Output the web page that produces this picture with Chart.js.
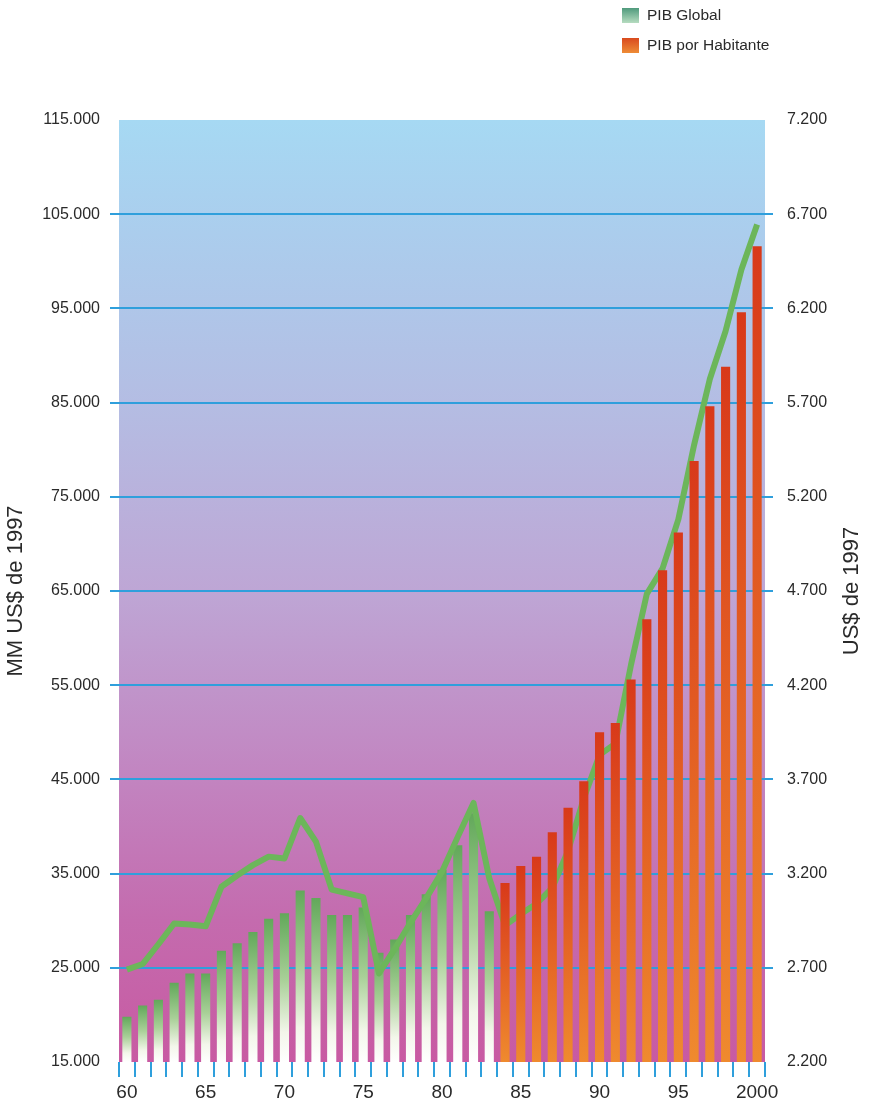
<!DOCTYPE html>
<html lang="es">
<head>
<meta charset="utf-8">
<title>PIB Global y PIB por Habitante</title>
<script src="https://cdn.jsdelivr.net/npm/chart.js@4.4.1/dist/chart.umd.min.js"></script>
<style>
  body { margin: 0; background: #fff; font-family: "Liberation Sans", Arial, sans-serif; }
  #wrap { position: relative; width: 869px; height: 1109px; }
  .legend { position: absolute; left: 622px; top: 0; font-size: 15.5px; color: #2a2a2a; }
  .legend div { display: flex; align-items: center; height: 30px; }
  .swatch { width: 17px; height: 15px; margin-right: 8px; }
  .sw-global { background: linear-gradient(#4f9a7c, #b6dcc0); }
  .sw-hab { background: linear-gradient(#d94a1e, #ee8c36); }
</style>
</head>
<body>
<div id="wrap">
  <canvas id="pib"></canvas>
  <div class="legend">
    <div><span class="swatch sw-global"></span>PIB Global</div>
    <div><span class="swatch sw-hab"></span>PIB por Habitante</div>
  </div>
</div>
<script>
const years = [
  '1960', '1961', '1962', '1963', '1964', '1965', '1966', '1967', '1968', '1969',
  '1970', '1971', '1972', '1973', '1974', '1975', '1976', '1977', '1978', '1979',
  '1980', '1981', '1982', '1983', '1984', '1985', '1986', '1987', '1988', '1989',
  '1990', '1991', '1992', '1993', '1994', '1995', '1996', '1997', '1998', '1999', '2000'
];

// MM US$ de 1997 (left axis)
const pibGlobal = [
  24800, 25400, 27500, 29700, 29600, 29400, 33600, 34800, 35900, 36800,
  36600, 40900, 38400, 33300, 32900, 32500, 24400, 27000, 29800, 32400,
  35200, 38900, 42500, 34500, 29500, 30700, 31800, 33500, 37400, 43000,
  47600, 48800, 57200, 64700, 67400, 72600, 80500, 87500, 92600, 99100, 103900
];

// US$ de 1997 (right axis), 1960-1983
const pibHabitanteHasta1983 = [
  2440, 2500, 2530, 2620, 2670, 2670, 2790, 2830, 2890, 2960,
  2990, 3110, 3070, 2980, 2980, 3020, 2780, 2850, 2980, 3090,
  3220, 3350, 3520, 3000
];

// US$ de 1997 (right axis), 1984-2000
const pibHabitanteDesde1984 = [
  3150, 3240, 3290, 3420, 3550, 3690, 3950, 4000, 4230, 4550,
  4810, 5010, 5390, 5680, 5890, 6180, 6530
];

const AZUL = '#2f9fdc';
const VERDE = '#6cb65a';
const TEXTO = '#2a2a2a';
const NADA = 'rgba(0,0,0,0)';

Chart.defaults.font.family = '"Liberation Sans", Arial, sans-serif';

const corte = pibHabitanteHasta1983.length;
const barrasVerdes = years.map((y, i) => i < corte ? pibHabitanteHasta1983[i] : null);
const barrasNaranjas = years.map((y, i) => i < corte ? null : pibHabitanteDesde1984[i - corte]);

function miles(v) {
  return String(v).replace(/\B(?=(\d{3})+(?!\d))/g, '.');
}

// vertical gradient per bar, from its top down to the axis base
function rellenoBarra(stops) {
  return ctx => {
    const chart = ctx.chart;
    const area = chart.chartArea;
    if (!area || ctx.raw == null) return stops[0][1];
    const top = chart.scales.y2.getPixelForValue(ctx.raw);
    const g = chart.ctx.createLinearGradient(0, top, 0, area.bottom);
    stops.forEach(([p, c]) => g.addColorStop(p, c));
    return g;
  };
}

function gridSinBordes(min, max) {
  return ctx => (ctx.tick && (ctx.tick.value === min || ctx.tick.value === max)) ? NADA : AZUL;
}

const fondo = {
  id: 'fondo',
  beforeDraw(chart) {
    const { ctx, chartArea: a } = chart;
    const g = ctx.createLinearGradient(0, a.top, 0, a.bottom);
    g.addColorStop(0, '#a6d9f3');
    g.addColorStop(0.1, '#aacfee');
    g.addColorStop(0.3, '#b4bde3');
    g.addColorStop(0.5, '#bea6d5');
    g.addColorStop(0.7, '#c284c0');
    g.addColorStop(0.85, '#c46bae');
    g.addColorStop(1, '#c85aa2');
    ctx.save();
    ctx.fillStyle = g;
    ctx.fillRect(a.left, a.top, a.right - a.left, a.bottom - a.top);
    ctx.restore();
  }
};

// right axis title, read bottom to top like the left one
const tituloDerecho = {
  id: 'tituloDerecho',
  afterDraw(chart) {
    const { ctx, chartArea: a } = chart;
    const s = chart.scales.y2;
    ctx.save();
    ctx.translate(s.right - 17, (a.top + a.bottom) / 2);
    ctx.rotate(-Math.PI / 2);
    ctx.font = '22px "Liberation Sans", Arial, sans-serif';
    ctx.fillStyle = TEXTO;
    ctx.textAlign = 'center';
    ctx.textBaseline = 'middle';
    ctx.fillText('US$ de 1997', 0, 0);
    ctx.restore();
  }
};

new Chart(document.getElementById('pib'), {
  type: 'bar',
  data: {
    labels: years,
    datasets: [
      {
        type: 'line',
        label: 'PIB Global',
        data: pibGlobal,
        yAxisID: 'y',
        borderColor: VERDE,
        borderWidth: 6,
        borderJoinStyle: 'round',
        pointRadius: 0,
        tension: 0,
        order: 1
      },
      {
        label: 'PIB por Habitante 1960-1983',
        data: barrasVerdes,
        yAxisID: 'y2',
        grouped: false,
        backgroundColor: rellenoBarra([[0, '#62a85a'], [0.45, '#a9d098'], [0.8, '#f3f6ea'], [1, '#ffffff']]),
        order: 2
      },
      {
        label: 'PIB por Habitante',
        data: barrasNaranjas,
        yAxisID: 'y2',
        grouped: false,
        backgroundColor: rellenoBarra([[0, '#d8391a'], [1, '#ef8a2e']]),
        order: 0
      }
    ]
  },
  options: {
    responsive: true,
    maintainAspectRatio: false,
    animation: false,
    categoryPercentage: 1,
    barPercentage: 0.58,
    layout: { padding: { top: 120, left: 0, right: 0, bottom: 0 } },
    plugins: {
      legend: { display: false },
      tooltip: { enabled: false }
    },
    scales: {
      x: {
        offset: true,
        border: { display: false },
        grid: { offset: true, drawOnChartArea: false, color: AZUL, lineWidth: 2, tickLength: 15 },
        ticks: {
          autoSkip: false,
          maxRotation: 0,
          padding: 4,
          color: TEXTO,
          font: { size: 19 },
          callback(value, i) {
            const y = Number(years[i]);
            if (y % 5 !== 0) return '';
            return y === 2000 ? '2000' : years[i].slice(2);
          }
        },
        afterFit(s) { s.height = 47; }
      },
      y: {
        position: 'left',
        min: 15000,
        max: 115000,
        border: { display: false },
        grid: { color: gridSinBordes(15000, 115000), lineWidth: 2, tickLength: 9 },
        ticks: { stepSize: 10000, padding: 10, color: TEXTO, font: { size: 16 }, callback: v => miles(v) },
        title: { display: true, text: 'MM US$ de 1997', color: TEXTO, font: { size: 22 }, padding: { top: 3, bottom: 0 } },
        afterFit(s) { s.width = 119; }
      },
      y2: {
        position: 'right',
        min: 2200,
        max: 7200,
        border: { display: false },
        grid: { drawOnChartArea: false, color: gridSinBordes(2200, 7200), lineWidth: 2, tickLength: 8 },
        ticks: { stepSize: 500, padding: 14, color: TEXTO, font: { size: 16 }, callback: v => miles(v) },
        afterFit(s) { s.width = 104; }
      }
    }
  },
  plugins: [fondo, tituloDerecho]
});
</script>
</body>
</html>
